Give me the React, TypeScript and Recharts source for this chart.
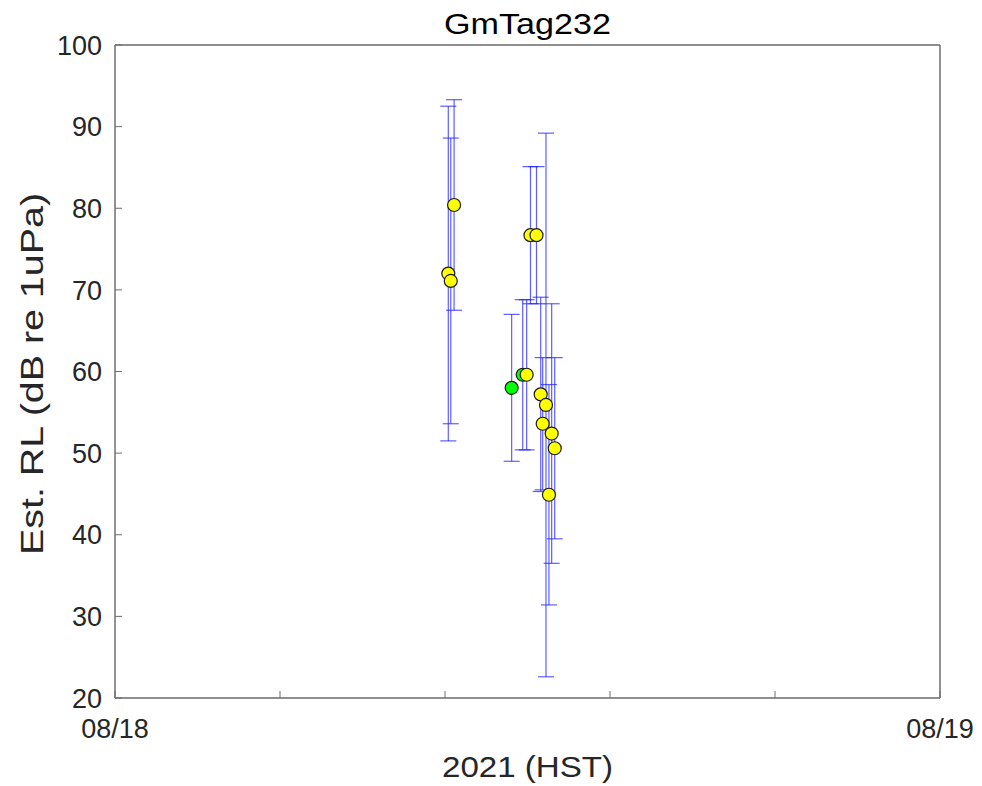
import React from 'react';
import { ScatterChart, Scatter, XAxis, YAxis, CartesianGrid, ErrorBar } from 'recharts';

// time as fraction of day after 08/18 00:00 (HST)
const tDay = [0.404, 0.407, 0.411, 0.4808, 0.4942, 0.499, 0.5036, 0.5109, 0.516, 0.5184, 0.5224, 0.526, 0.5293, 0.533];
const rlDb = [72.0, 71.1, 80.4, 58.0, 59.6, 59.6, 76.7, 76.7, 57.2, 53.6, 55.9, 44.9, 52.4, 50.6];
const rlErr = [20.5, 17.5, 12.9, 9.0, 9.2, 9.2, 8.4, 8.4, 11.9, 8.1, 33.3, 13.5, 15.9, 11.1];
const markerColor = ['yellow', 'yellow', 'yellow', 'green', 'green', 'yellow', 'yellow', 'yellow', 'yellow', 'yellow', 'yellow', 'yellow', 'yellow', 'yellow'];

const xTicks = [0, 0.2, 0.4, 0.6, 0.8, 1];
const xTickLabels = ['08/18', '', '', '', '', '08/19'];
const yTicks = [20, 30, 40, 50, 60, 70, 80, 90, 100];

const data = tDay.map((t, i) => ({ t, rl: rlDb[i], err: rlErr[i], c: markerColor[i] }));

const FONT = '"Liberation Sans", Arial, Helvetica, sans-serif';
const TXT = '#262626';
const AX = '#6e6e6e';
const TICK_LEN = 7;
const TICK_FS = 27;

const LeftTick = (p: any) => (
  <g>
    <line x1={p.x} x2={p.x + TICK_LEN} y1={p.y} y2={p.y} stroke={AX} strokeWidth={1} />
    <text x={p.x - 13} y={p.y} dy="0.36em" textAnchor="end" fontFamily={FONT} fontSize={TICK_FS} fill={TXT}>
      {p.payload.value}
    </text>
  </g>
);
const RightTick = (p: any) => (
  <line x1={p.x - TICK_LEN} x2={p.x} y1={p.y} y2={p.y} stroke={AX} strokeWidth={1} />
);
const BottomTick = (p: any) => {
  const idx = xTicks.indexOf(p.payload.value);
  return (
    <g>
      <line x1={p.x} x2={p.x} y1={p.y - TICK_LEN} y2={p.y} stroke={AX} strokeWidth={1} />
      <text x={p.x} y={p.y + 40} textAnchor="middle" fontFamily={FONT} fontSize={TICK_FS} fill={TXT}>
        {idx >= 0 ? xTickLabels[idx] : ''}
      </text>
    </g>
  );
};
const TopTick = (p: any) => (
  <line x1={p.x} x2={p.x} y1={p.y} y2={p.y + TICK_LEN} stroke={AX} strokeWidth={1} />
);

const Marker = (p: any) => {
  if (p.cx == null || p.cy == null) return <g />;
  const fill = p.payload.c === 'green' ? '#00ff00' : '#ffff00';
  return <circle cx={p.cx} cy={p.cy} r={6.5} fill={fill} stroke="#1a1a1a" strokeWidth={1.2} />;
};
const NoMarker = () => <g />;

export default function App() {
  return (
    <div style={{ position: 'absolute', left: 0, top: 0, width: 982, height: 786, background: '#fff' }}>
      <ScatterChart width={982} height={786} margin={{ top: 0, right: 41, bottom: 0, left: 0 }}>
        <CartesianGrid horizontal={true} vertical={false} stroke="#e3e3e3" strokeWidth={1} />
        <XAxis
          xAxisId="b"
          type="number"
          dataKey="t"
          domain={[0, 1]}
          ticks={xTicks}
          orientation="bottom"
          height={88}
          tickSize={0}
          tickMargin={0}
          tickLine={false}
          tick={BottomTick}
          axisLine={{ stroke: AX, strokeWidth: 1.5 }}
          interval={0}
        />
        <XAxis
          xAxisId="t"
          type="number"
          dataKey="t"
          domain={[0, 1]}
          ticks={xTicks}
          orientation="top"
          height={45}
          tickSize={0}
          tickMargin={0}
          tickLine={false}
          tick={TopTick}
          axisLine={{ stroke: AX, strokeWidth: 1.5 }}
          interval={0}
        />
        <YAxis
          yAxisId="l"
          type="number"
          dataKey="rl"
          domain={[20, 100]}
          ticks={yTicks}
          orientation="left"
          width={115}
          tickSize={0}
          tickMargin={0}
          tickLine={false}
          tick={LeftTick}
          axisLine={{ stroke: AX, strokeWidth: 1.5 }}
          interval={0}
        />
        <YAxis
          yAxisId="r"
          type="number"
          dataKey="rl"
          domain={[20, 100]}
          ticks={yTicks}
          orientation="right"
          width={1}
          tickSize={0}
          tickMargin={0}
          tickLine={false}
          tick={RightTick}
          axisLine={{ stroke: AX, strokeWidth: 1.5 }}
          interval={0}
        />
        <Scatter data={data} xAxisId="b" yAxisId="l" shape={NoMarker} isAnimationActive={false}>
          <ErrorBar dataKey="err" direction="y" width={8} stroke="#1a1aff" strokeOpacity={0.7} strokeWidth={1.2} isAnimationActive={false} />
        </Scatter>
        <Scatter data={data} xAxisId="b" yAxisId="l" shape={Marker} isAnimationActive={false} />
        <text x={527.5} y={34} textAnchor="middle" fontFamily={FONT} fontSize={29} textLength={167} lengthAdjust="spacingAndGlyphs" fill="#000">GmTag232</text>
        <text x={527.5} y={777} textAnchor="middle" fontFamily={FONT} fontSize={30} textLength={171} lengthAdjust="spacingAndGlyphs" fill={TXT}>2021 (HST)</text>
        <text x={43} y={374} transform="rotate(-90 43 374)" textAnchor="middle" fontFamily={FONT} fontSize={31} textLength={362} lengthAdjust="spacingAndGlyphs" fill={TXT}>Est. RL (dB re 1uPa)</text>
      </ScatterChart>
    </div>
  );
}
